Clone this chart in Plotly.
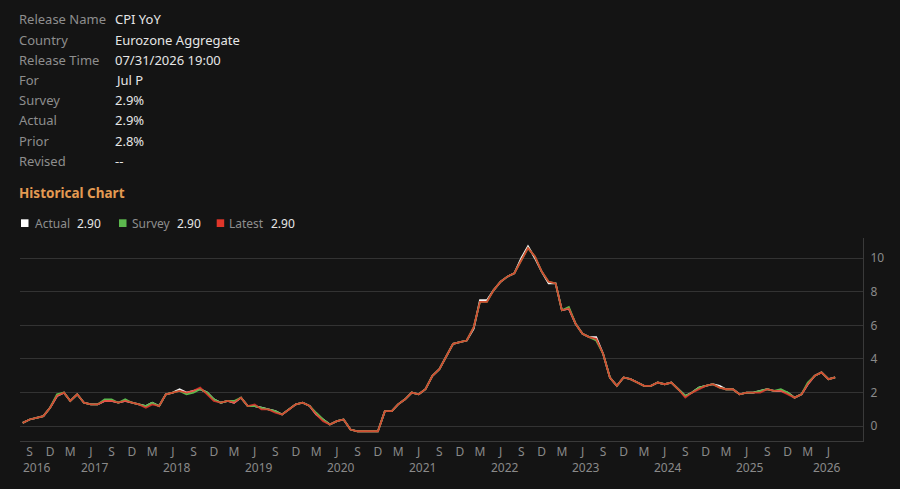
import pandas as pd
import plotly.graph_objects as go

# ---------------- data ----------------
months = [pd.Timestamp(2016, 8, 15) + pd.DateOffset(months=i) for i in range(120)]

latest = [
    0.2, 0.4, 0.5, 0.6, 1.1,
    1.8, 2.0, 1.5, 1.9, 1.4, 1.3, 1.3, 1.5, 1.5, 1.4, 1.5, 1.4,
    1.3, 1.1, 1.3, 1.2, 1.9, 2.0, 2.1, 2.0, 2.1, 2.3, 1.9, 1.5,
    1.4, 1.5, 1.4, 1.7, 1.2, 1.3, 1.0, 1.0, 0.8, 0.7, 1.0, 1.3,
    1.4, 1.2, 0.7, 0.3, 0.1, 0.3, 0.4, -0.2, -0.3, -0.3, -0.3, -0.3,
    0.9, 0.9, 1.3, 1.6, 2.0, 1.9, 2.2, 3.0, 3.4, 4.1, 4.9, 5.0,
    5.1, 5.9, 7.4, 7.4, 8.1, 8.6, 8.9, 9.1, 9.9, 10.6, 10.1, 9.2,
    8.6, 8.5, 6.9, 7.0, 6.1, 5.5, 5.3, 5.2, 4.3, 2.9, 2.4, 2.9,
    2.8, 2.6, 2.4, 2.4, 2.6, 2.5, 2.6, 2.2, 1.7, 2.0, 2.2, 2.4,
    2.5, 2.3, 2.2, 2.2, 1.9, 2.0, 2.0, 2.0, 2.2, 2.1, 2.1, 1.9,
    1.7, 1.9, 2.5, 3.0, 3.2, 2.8, 2.9,
]

actual = [
    0.2, 0.4, 0.5, 0.6, 1.1,
    1.8, 2.0, 1.5, 1.9, 1.4, 1.3, 1.3, 1.5, 1.5, 1.4, 1.5, 1.4,
    1.3, 1.2, 1.4, 1.2, 1.9, 2.0, 2.2, 2.0, 2.1, 2.2, 2.0, 1.6,
    1.4, 1.5, 1.4, 1.7, 1.2, 1.2, 1.1, 1.0, 0.9, 0.7, 1.0, 1.3,
    1.4, 1.2, 0.7, 0.4, 0.1, 0.3, 0.4, -0.2, -0.3, -0.3, -0.3, -0.3,
    0.9, 0.9, 1.3, 1.6, 2.0, 1.9, 2.2, 3.0, 3.4, 4.1, 4.9, 5.0,
    5.1, 5.8, 7.5, 7.5, 8.1, 8.6, 8.9, 9.1, 10.0, 10.7, 10.0, 9.2,
    8.5, 8.5, 6.9, 7.0, 6.1, 5.5, 5.3, 5.3, 4.3, 2.9, 2.4, 2.9,
    2.8, 2.6, 2.4, 2.4, 2.6, 2.5, 2.6, 2.2, 1.8, 2.0, 2.3, 2.4,
    2.5, 2.4, 2.2, 2.2, 1.9, 2.0, 2.0, 2.1, 2.2, 2.1, 2.1, 2.0,
    1.7, 1.9, 2.5, 3.0, 3.2, 2.8, 2.9,
]

survey = [
    0.2, 0.4, 0.5, 0.6, 1.1,
    1.9, 2.0, 1.5, 1.9, 1.4, 1.3, 1.3, 1.6, 1.6, 1.4, 1.6, 1.4,
    1.3, 1.2, 1.4, 1.2, 1.9, 2.0, 2.1, 1.9, 2.0, 2.2, 2.0, 1.6,
    1.4, 1.5, 1.5, 1.7, 1.2, 1.2, 1.1, 1.0, 0.9, 0.7, 1.0, 1.3,
    1.4, 1.2, 0.8, 0.4, 0.1, 0.3, 0.4, -0.2, -0.3, -0.3, -0.3, -0.3,
    0.9, 0.9, 1.3, 1.6, 2.0, 1.9, 2.2, 3.0, 3.4, 4.1, 4.9, 5.0,
    5.1, 5.9, 7.4, 7.4, 8.1, 8.6, 8.9, 9.1, 9.9, 10.6, 10.1, 9.2,
    8.6, 8.5, 6.9, 7.1, 6.1, 5.5, 5.3, 5.1, 4.3, 2.9, 2.4, 2.9,
    2.8, 2.6, 2.4, 2.4, 2.6, 2.5, 2.6, 2.2, 1.8, 2.0, 2.3, 2.4,
    2.5, 2.3, 2.2, 2.2, 1.9, 2.0, 2.0, 2.1, 2.2, 2.1, 2.2, 2.0,
    1.7, 1.9, 2.6, 3.0, 3.2, 2.8, 2.9,
]

info_labels = ["Release Name", "Country", "Release Time", "For",
               "Survey", "Actual", "Prior", "Revised"]
info_values = ["CPI YoY", "Eurozone Aggregate", "07/31/2026 19:00", "Jul P",
               "2.9%", "2.9%", "2.8%", "--"]

legend_names = ["Actual", "Survey", "Latest"]
legend_values = ["2.90", "2.90", "2.90"]

month_letters = {3: "M", 6: "J", 9: "S", 12: "D"}
years = list(range(2016, 2027))
y_ticks = [0, 2, 4, 6, 8, 10]

# ---------------- style ----------------
BG = "#141414"
FONT = "Noto Sans"
LABEL_C = "#8e8e8e"
VALUE_C = "#e6e6e6"
AXIS_C = "#8a8a8a"
COLORS = {"Actual": "#f2f2f2", "Survey": "#5cb84e", "Latest": "rgba(228,56,44,0.85)"}
SWATCH = {"Actual": "#ffffff", "Survey": "#5cb84e", "Latest": "#e0362a"}

W, H = 900, 489
L, R, T, B = 20, 863, 238, 441
x_range = [pd.Timestamp("2016-08-03"), pd.Timestamp("2026-11-16")]


def px(x):
    return (x - L) / (R - L)


def py(y):
    return (B - y) / (B - T)


fig = go.Figure()
for name, vals in (("Actual", actual), ("Survey", survey), ("Latest", latest)):
    fig.add_trace(go.Scatter(x=months, y=vals, mode="lines", name=name,
                             line=dict(color=COLORS[name], width=1.8),
                             showlegend=False))

tick_vals = [d for d in months if d.month in month_letters]
tick_text = [month_letters[d.month] for d in tick_vals]

annotations = []
shapes = []

# header info rows
row_y = [19.3, 40, 60, 80, 100, 120, 140.7, 161]
for lab, val, yy in zip(info_labels, info_values, row_y):
    annotations.append(dict(x=px(17), y=py(yy), xref="paper", yref="paper",
                            text=lab, showarrow=False, xanchor="left", yanchor="middle",
                            font=dict(family=FONT, size=13, color=LABEL_C)))
    annotations.append(dict(x=px(112.5), y=py(yy), xref="paper", yref="paper",
                            text=val, showarrow=False, xanchor="left", yanchor="middle",
                            font=dict(family=FONT, size=13, color=VALUE_C)))

annotations.append(dict(x=px(17), y=py(193.3), xref="paper", yref="paper",
                        text="<b>Historical Chart</b>", showarrow=False,
                        xanchor="left", yanchor="middle",
                        font=dict(family=FONT, size=13.5, color="#e39a52")))

# legend
sw_x = [21, 119, 216.7]
name_x = [33, 130, 227]
val_x = [75, 174.5, 269]
for nm, v, sx, nx, vx in zip(legend_names, legend_values, sw_x, name_x, val_x):
    shapes.append(dict(type="rect", xref="paper", yref="paper",
                       x0=px(sx), x1=px(sx + 7.5), y0=py(227), y1=py(219.3),
                       fillcolor=SWATCH[nm], line=dict(width=0)))
    annotations.append(dict(x=px(nx), y=py(223.3), xref="paper", yref="paper",
                            text=nm, showarrow=False, xanchor="left", yanchor="middle",
                            font=dict(family=FONT, size=12, color=LABEL_C)))
    annotations.append(dict(x=px(vx), y=py(223.3), xref="paper", yref="paper",
                            text=v, showarrow=False, xanchor="left", yanchor="middle",
                            font=dict(family=FONT, size=12, color=VALUE_C)))

# year labels
for yr in years:
    a = max(pd.Timestamp(yr, 1, 1), x_range[0])
    b = min(pd.Timestamp(yr + 1, 1, 1), x_range[1])
    mid = a + (b - a) / 2
    annotations.append(dict(x=mid, y=0, xref="x", yref="paper", yshift=-26,
                            text=str(yr), showarrow=False, xanchor="center",
                            yanchor="middle", borderpad=0,
                            font=dict(family=FONT, size=12, color=AXIS_C)))

fig.update_layout(
    width=W, height=H,
    margin=dict(l=L, r=W - R, t=T, b=H - B, pad=0),
    paper_bgcolor=BG, plot_bgcolor=BG,
    font=dict(family=FONT, color=AXIS_C),
    showlegend=False,
    annotations=annotations,
    shapes=shapes,
    xaxis=dict(type="date", range=x_range, tickvals=tick_vals, ticktext=tick_text,
               showgrid=False, zeroline=False, showline=True, linecolor="#3a3a3a",
               linewidth=1, ticks="", ticklabelstandoff=0,
               tickfont=dict(family=FONT, size=12, color=AXIS_C)),
    yaxis=dict(side="right", range=[-0.88, 11.2], tickvals=y_ticks,
               showgrid=True, gridcolor="#333333", gridwidth=1, zeroline=False,
               showline=True, linecolor="#3a3a3a", linewidth=1, ticks="",
               ticklabelstandoff=4,
               tickfont=dict(family=FONT, size=12, color=AXIS_C)),
)

fig.write_html(
    "out.html",
    config={"displayModeBar": False},
    post_script="document.body.style.margin='0';document.body.style.padding='0';"
                "document.body.style.overflow='hidden';"
                "document.body.style.background='#141414';",
)
